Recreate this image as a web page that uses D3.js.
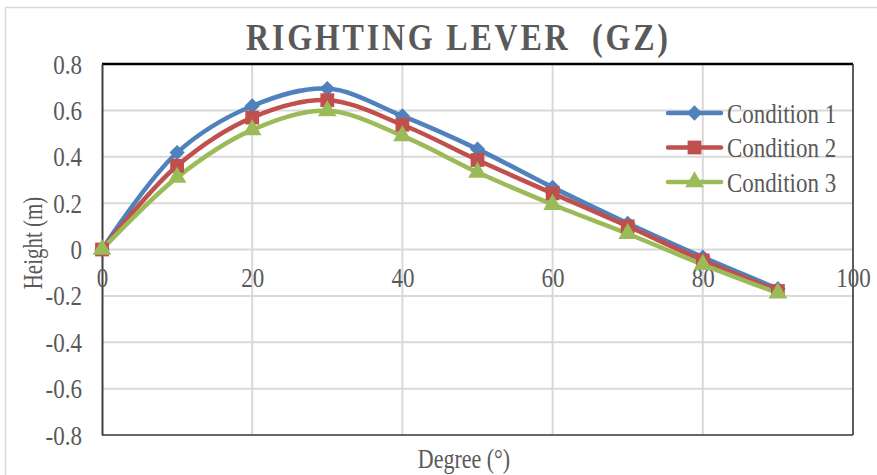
<!DOCTYPE html>
<html>
<head>
<meta charset="utf-8">
<script src="https://cdn.jsdelivr.net/npm/d3@7"></script>
<style>
  body { margin: 0; background: #fff; }
  text {
    font-family: "Liberation Serif", "Times New Roman", serif; fill: #595959;
    transform-box: fill-box; transform-origin: center; transform: scaleY(1.2);
  }
</style>
</head>
<body>
<svg id="chart" width="877" height="475"></svg>
<script>
// righting lever curves
var degrees = [0, 10, 20, 30, 40, 50, 60, 70, 80, 90];
var condition1 = [0, 0.418, 0.619, 0.694, 0.576, 0.433, 0.268, 0.113, -0.033, -0.169];
var condition2 = [0, 0.361, 0.569, 0.644, 0.538, 0.386, 0.242, 0.100, -0.047, -0.179];
var condition3 = [0, 0.311, 0.516, 0.598, 0.490, 0.333, 0.194, 0.068, -0.065, -0.188];
var seriesNames = ["Condition 1", "Condition 2", "Condition 3"];
var xTicks = [0, 20, 40, 60, 80, 100];
var yTicks = [-0.8, -0.6, -0.4, -0.2, 0, 0.2, 0.4, 0.6, 0.8];

var colors = ["#4F81BD", "#C0504D", "#9BBB59"];
var symbols = [d3.symbolDiamond2, d3.symbolSquare, d3.symbolTriangle];
var symSize = [150, 190, 150];

var svg = d3.select("#chart");
var plotL = 102, plotR = 853, plotT = 64, plotB = 435;

var x = d3.scaleLinear().domain([0, 100]).range([plotL, plotR]);
var y = d3.scaleLinear().domain([-0.8, 0.8]).range([plotB, plotT]);

// outer chart frame
svg.append("rect")
    .attr("x", 5.5).attr("y", 7.5).attr("width", 880).attr("height", 480)
    .attr("fill", "none").attr("stroke", "#d9d9d9").attr("stroke-width", 1.5);

// title (double space kept)
svg.append("text")
    .attr("x", 457).attr("y", 37).attr("dy", "0.35em")
    .attr("text-anchor", "middle")
    .attr("textLength", 422).attr("lengthAdjust", "spacing")
    .style("font-size", "32px").style("font-weight", "bold").style("white-space", "pre")
    .text("RIGHTING LEVER  (GZ)");

//*************** grid ***************
var grid = svg.append("g");
grid.selectAll("line.h").data(yTicks).enter().append("line")
    .attr("x1", plotL).attr("x2", plotR)
    .attr("y1", function(d){return y(d);}).attr("y2", function(d){return y(d);})
    .attr("stroke", "#d9d9d9").attr("stroke-width", 2);
grid.selectAll("line.v").data(xTicks.slice(1, -1)).enter().append("line")
    .attr("y1", plotT).attr("y2", plotB)
    .attr("x1", function(d){return x(d);}).attr("x2", function(d){return x(d);})
    .attr("stroke", "#d9d9d9").attr("stroke-width", 2);

// plot border
svg.append("line").attr("x1", plotL).attr("x2", plotR).attr("y1", plotT).attr("y2", plotT)
    .attr("stroke", "#000").attr("stroke-width", 2.5);
svg.append("line").attr("x1", plotR).attr("x2", plotR).attr("y1", plotT).attr("y2", plotB)
    .attr("stroke", "#262626").attr("stroke-width", 1.5);
svg.append("line").attr("x1", plotL).attr("x2", plotR).attr("y1", plotB).attr("y2", plotB)
    .attr("stroke", "#404040").attr("stroke-width", 1.5);

// y axis (plain hyphen for negatives, like the original)
var yAxis = d3.axisLeft(y).tickValues(yTicks).tickSize(0).tickPadding(20)
    .tickFormat(function(d){return d === 0 ? "0" : d.toFixed(1);});
var yG = svg.append("g").attr("transform", "translate(" + plotL + ",0)").call(yAxis);
yG.select(".domain").attr("stroke", "#404040").attr("stroke-width", 2);
yG.selectAll("text").style("font-size", "23px").attr("fill", "#595959");

// x axis labels sit under the zero line
var xAxis = d3.axisBottom(x).tickValues(xTicks).tickSize(0).tickPadding(20);
var xG = svg.append("g").attr("transform", "translate(0," + y(0) + ")").call(xAxis);
xG.select(".domain").remove();
xG.selectAll("text").style("font-size", "23px").attr("fill", "#595959");

// axis titles
svg.append("g")
    .attr("transform", "translate(33,243) rotate(-90)")
  .append("text")
    .attr("text-anchor", "middle").attr("dy", "0.35em")
    .style("font-size", "21px").style("transform", "scaleY(1.25)")
    .text("Height (m)");
svg.append("text")
    .attr("x", 464).attr("y", 459).attr("dy", "0.35em")
    .attr("text-anchor", "middle").style("font-size", "22px")
    .text("Degree (°)");

//*************** series ***************
var allSeries = [condition1, condition2, condition3];
var line = d3.line()
    .x(function(d){return x(d[0]);})
    .y(function(d){return y(d[1]);})
    .curve(d3.curveCatmullRom.alpha(0.5));

allSeries.forEach(function(vals, i) {
    var pts = degrees.map(function(dg, k){return [dg, vals[k]];});
    svg.append("path")
        .datum(pts)
        .attr("d", line)
        .attr("fill", "none")
        .attr("stroke", colors[i])
        .attr("stroke-width", 4.5)
        .attr("stroke-linejoin", "round");
});
allSeries.forEach(function(vals, i) {
    var pts = degrees.map(function(dg, k){return [dg, vals[k]];});
    svg.append("g").selectAll("path").data(pts).enter().append("path")
        .attr("transform", function(d){return "translate(" + x(d[0]) + "," + y(d[1]) + ")";})
        .attr("d", d3.symbol().type(symbols[i]).size(symSize[i]))
        .attr("fill", colors[i]);
});

//*************** legend ***************
var legend = svg.append("g");
seriesNames.forEach(function(name, i) {
    var ly = 113 + i * 34.5;
    legend.append("line")
        .attr("x1", 668).attr("x2", 721).attr("y1", ly).attr("y2", ly)
        .attr("stroke", colors[i]).attr("stroke-width", 4.5).attr("stroke-linecap", "round");
    legend.append("path")
        .attr("transform", "translate(694.5," + ly + ")")
        .attr("d", d3.symbol().type(symbols[i]).size(symSize[i]))
        .attr("fill", colors[i]);
    legend.append("text")
        .attr("x", 727).attr("y", ly).attr("dy", "0.35em")
        .style("font-size", "23px")
        .text(name);
});
</script>
</body>
</html>
